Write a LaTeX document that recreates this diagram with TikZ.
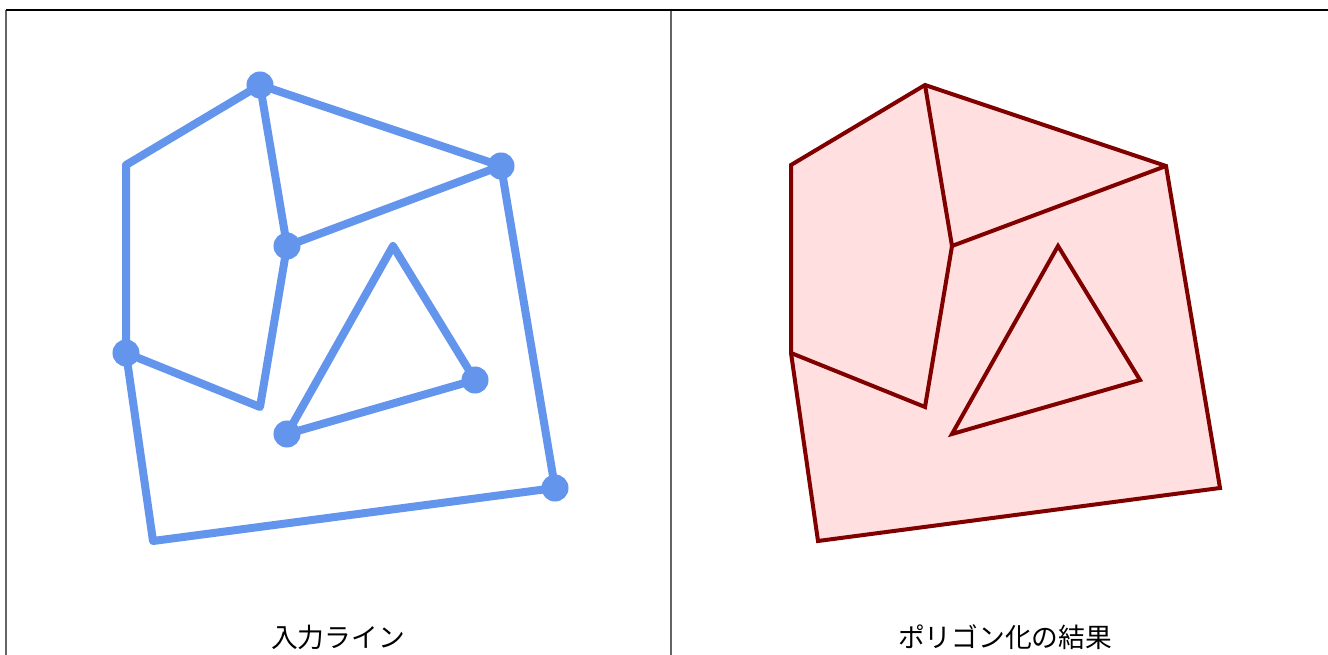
\documentclass[tikz,border=0pt]{standalone}
\usepackage{fontspec}
\newfontfamily\jpfont{Noto Sans CJK JP}
\usetikzlibrary{calc}
\definecolor{linestroke}{RGB}{100,149,237}
\definecolor{polystroke}{RGB}{128,0,0}
\definecolor{polyfill}{RGB}{255,223,223}
\definecolor{frameline}{RGB}{100,100,100}
\tikzset{
  inputline/.style={line width=0.08cm, color=linestroke, line cap=round, line join=round},
  inputdot/.style={fill=linestroke},
  polyedge/.style={line width=0.04cm, color=polystroke, line join=miter},
  polyarea/.style={fill=polyfill},
  caption/.style={font=\jpfont\fontsize{7.6pt}{9pt}\selectfont, text=black, inner sep=0pt},
  frame/.style={line width=0.6pt, color=frameline},
}

\begin{document}
\begin{tikzpicture}[x=0.01cm, y=-0.01cm]
\useasboundingbox (0,0) rectangle (1328,655);

%% ─── VERTICES (left panel, right panel shifted) ──────────────
\foreach \n/\px/\py in {A/260/85, B/126/165, C/501/166, D/287/246,
                        E/126/353, F/260/407, G/153/541, H/555/488,
                        T1/393/246, T2/475/380, T3/287/434}{
  \coordinate (l\n) at (\px,\py);
  \coordinate (r\n) at (\px+665,\py);
}

%% ─── FRAME ───────────────────────────────────────────────────
\coordinate (tl) at (6,10);
\coordinate (tm) at (671,10);
\coordinate (tr) at (1328,10);
\coordinate (bl) at (6,655);
\coordinate (bm) at (671,655);
\draw[frame] (tl) -- (bl);
\draw[frame] (tm) -- (bm);
\draw[line width=0.7pt, black] (tl) -- (tr);

%% ─── INPUT LINES ─────────────────────────────────────────────
\draw[inputline] (lE) -- (lB) -- (lA);
\draw[inputline] (lA) -- (lD);
\draw[inputline] (lD) -- (lF) -- (lE);
\draw[inputline] (lA) -- (lC);
\draw[inputline] (lC) -- (lD);
\draw[inputline] (lC) -- (lH);
\draw[inputline] (lH) -- (lG) -- (lE);
\draw[inputline] (lT3) -- (lT1) -- (lT2) -- cycle;

\foreach \p in {lA, lC, lD, lE, lH, lT2, lT3}{
  \fill[inputdot] (\p) circle (0.135cm);
}

\node[caption] (cap1) at (338,637) {入力ライン};

%% ─── POLYGONIZED RESULT ──────────────────────────────────────
\fill[polyarea] (rA) -- (rC) -- (rH) -- (rG) -- (rE) -- (rB) -- cycle;

\draw[polyedge] (rA) -- (rC) -- (rH) -- (rG) -- (rE) -- (rB) -- cycle;
\draw[polyedge] (rA) -- (rD) -- (rC);
\draw[polyedge] (rD) -- (rF) -- (rE);
\draw[polyedge] (rT1) -- (rT2) -- (rT3) -- cycle;

\node[caption] (cap2) at (1005,637) {ポリゴン化の結果};

\end{tikzpicture}
\end{document}
